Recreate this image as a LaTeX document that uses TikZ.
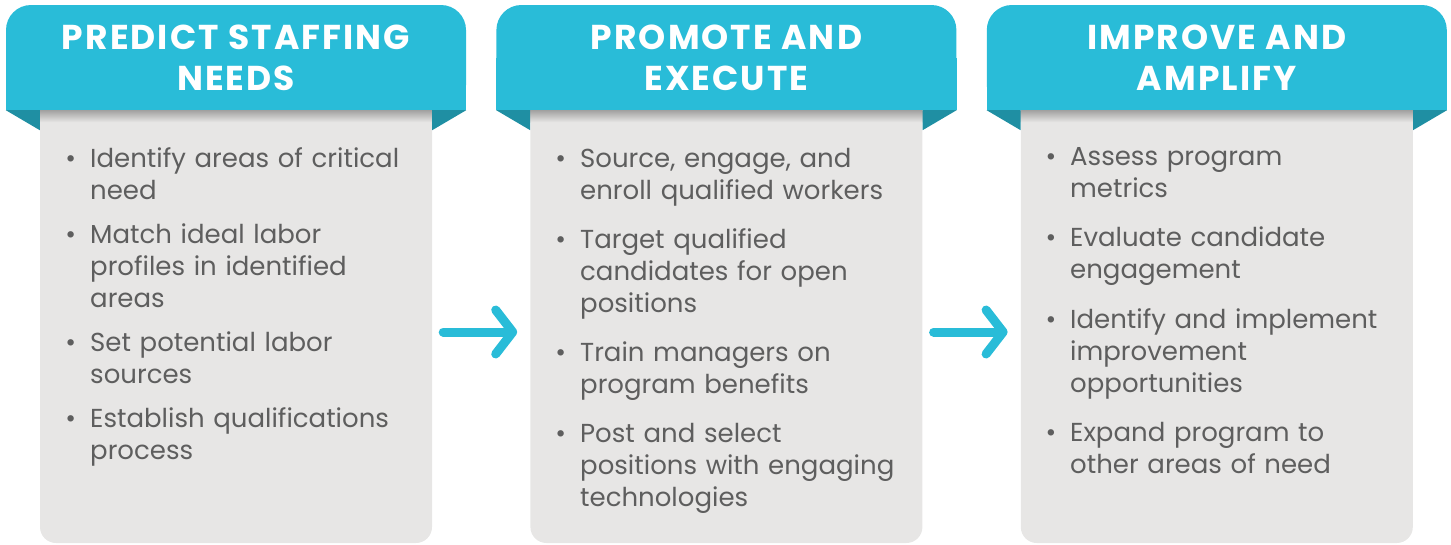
\documentclass[tikz,border=0pt]{standalone}
\usepackage{fontspec}
\setmainfont{Poppins}
\newfontfamily\headfont[LetterSpace=6]{Poppins}
\usetikzlibrary{arrows.meta,positioning,calc}
\definecolor{bannercol}{HTML}{29BCD8}
\definecolor{foldcol}{HTML}{1F8FA3}
\definecolor{panelcol}{HTML}{E7E6E5}
\definecolor{bodycol}{HTML}{5E5E5E}
\tikzset{
  bannerbox/.style={fill=bannercol,rounded corners=25pt,minimum width=460pt,minimum height=105pt,inner sep=0pt},
  panelbox/.style={fill=panelcol,rounded corners=16pt,minimum width=392pt,minimum height=483pt,inner sep=0pt},
  titletext/.style={text=white,font=\headfont\bfseries\fontsize{34.5}{41}\selectfont,align=center},
  bodytext/.style={text=bodycol,font=\fontsize{26}{32}\selectfont,text width=340pt,inner sep=0pt},
  flow/.style={draw=bannercol,line width=9pt,line cap=round,-{Straight Barb[length=17pt,width=44pt,round]}}
}
\newcommand{\bul}{\noindent\llap{\textbullet\hspace{14pt}}}

\begin{document}
\begin{tikzpicture}[x=1pt,y=-1pt]
\useasboundingbox (0,0) rectangle (1451,544);
% panels
\node[panelbox] (panel1) at (236,301.5) {};
\node[panelbox,right=98pt of panel1] (panel2) {};
\node[panelbox,right=98pt of panel2] (panel3) {};
% banners
\node[bannerbox] (ban1) at (236,57.5) {};
\node[bannerbox,right=30pt of ban1] (ban2) {};
\node[bannerbox,right=30pt of ban2] (ban3) {};
\foreach \i in {1,2,3}{
  \fill[bannercol] (ban\i.west) rectangle (ban\i.south east);
  \shade[top color=black!30!panelcol,bottom color=panelcol] (panel\i.west |- ban\i.south) rectangle ($(panel\i.east |- ban\i.south)+(0,12)$);
  \fill[foldcol] (ban\i.south west) -- (panel\i.west |- ban\i.south) -- ++(0,20) -- cycle;
  \fill[foldcol] (ban\i.south east) -- (panel\i.east |- ban\i.south) -- ++(0,20) -- cycle;
}
% titles
\node[titletext] (title1) at (ban1) {PREDICT STAFFING\\NEEDS};
\node[titletext] (title2) at (ban2) {PROMOTE AND\\EXECUTE};
\node[titletext] (title3) at (ban3) {IMPROVE AND\\AMPLIFY};
% lists
\node[bodytext,anchor=base west] (list1) at (90,167) {\setlength{\parskip}{12pt}%
\bul Identify areas of critical\\need\par
\bul Match ideal labor\\profiles in identified\\areas\par
\bul Set potential labor\\sources\par
\bul Establish qualifications\\process\par};
\node[bodytext,anchor=base west] (list2) at (580,167) {\setlength{\parskip}{17pt}%
\bul Source, engage, and\\enroll qualified workers\par
\bul Target qualified\\candidates for open\\positions\par
\bul Train managers on\\program benefits\par
\bul Post and select\\positions with engaging\\technologies\par};
\node[bodytext,anchor=base west] (list3) at (1070,165) {\setlength{\parskip}{17.5pt}%
\bul Assess program\\metrics\par
\bul Evaluate candidate\\engagement\par
\bul Identify and implement\\improvement\\opportunities\par
\bul Expand program to\\other areas of need\par};
% arrows
\draw[flow,shorten <=11pt,shorten >=13pt] ([yshift=-30.5pt]panel1.east) -- ([yshift=-30.5pt]panel2.west);
\draw[flow,shorten <=11pt,shorten >=13pt] ([yshift=-30.5pt]panel2.east) -- ([yshift=-30.5pt]panel3.west);
\end{tikzpicture}
\end{document}
